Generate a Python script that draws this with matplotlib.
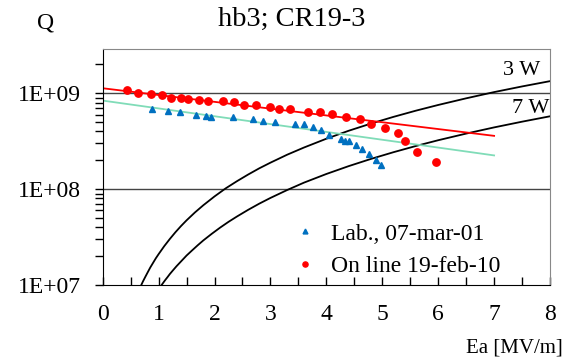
import matplotlib.pyplot as plt
import numpy as np

plt.rcParams['font.family'] = ['Liberation Serif', 'DejaVu Serif']

# measured Q vs Ea, lab test 07-mar-01 (blue triangles)
lab_ea = [0.88, 1.16, 1.39, 1.66, 1.84, 1.94, 2.33, 2.68, 2.87, 3.09, 3.44, 3.60,
          3.76, 3.90, 4.04, 4.26, 4.34, 4.41, 4.53, 4.64, 4.76, 4.88, 4.97]
lab_q = [6.85e8, 6.6e8, 6.4e8, 6.0e8, 5.8e8, 5.6e8, 5.6e8, 5.4e8, 5.2e8, 5.0e8, 4.75e8, 4.75e8,
         4.5e8, 4.14e8, 3.7e8, 3.3e8, 3.2e8, 3.15e8, 2.87e8, 2.6e8, 2.32e8, 2.03e8, 1.8e8]

# on line 19-feb-10 (red circles)
onl_ea = [0.43, 0.64, 0.86, 1.06, 1.22, 1.40, 1.53, 1.73, 1.89, 2.15, 2.35, 2.53, 2.74,
          2.99, 3.15, 3.35, 3.67, 3.88, 4.10, 4.35, 4.60, 4.80, 5.05, 5.29, 5.41, 5.62, 5.96]
onl_q = [1.08e9, 1.02e9, 9.9e8, 9.5e8, 9.0e8, 8.87e8, 8.7e8, 8.5e8, 8.4e8, 8.4e8, 8.1e8, 7.6e8, 7.5e8,
         7.15e8, 6.9e8, 6.9e8, 6.35e8, 6.35e8, 6.1e8, 5.6e8, 5.35e8, 4.75e8, 4.3e8, 3.82e8, 3.18e8, 2.42e8, 1.92e8]

# trend lines (end points)
fit_ea = [0, 7]
onl_fit = [1.13e9, 3.6e8]
lab_fit = [8.4e8, 2.25e8]

# constant power curves
w3_ea = [0.69, 0.72, 0.76, 0.8, 0.85, 0.9, 0.95, 1.0, 1.1, 1.2, 1.3, 1.4, 1.5, 1.65, 1.8,
         2.0, 2.2, 2.4, 2.6, 2.8, 3.0, 3.3, 3.6, 4.0, 4.4, 4.8, 5.2, 5.6, 6.0, 6.5, 7.0, 7.5, 8.0]
w3_q = [1.0e7, 1.09e7, 1.21e7, 1.34e7, 1.52e7, 1.70e7, 1.90e7, 2.1e7, 2.54e7, 3.02e7, 3.55e7,
        4.12e7, 4.73e7, 5.72e7, 6.80e7, 8.4e7, 1.02e8, 1.21e8, 1.42e8, 1.65e8, 1.89e8, 2.29e8,
        2.72e8, 3.36e8, 4.07e8, 4.84e8, 5.68e8, 6.59e8, 7.56e8, 8.87e8, 1.03e9, 1.18e9, 1.34e9]
w7_ea = [1.054, 1.08, 1.12, 1.16, 1.2, 1.26, 1.32, 1.4, 1.5, 1.6, 1.7, 1.8, 1.95, 2.1, 2.25,
         2.4, 2.6, 2.8, 3.0, 3.3, 3.6, 4.0, 4.4, 4.8, 5.2, 5.6, 6.0, 6.5, 7.0, 7.5, 8.0]
w7_q = [1.0e7, 1.05e7, 1.13e7, 1.21e7, 1.30e7, 1.43e7, 1.57e7, 1.76e7, 2.03e7, 2.30e7, 2.60e7,
        2.92e7, 3.42e7, 3.97e7, 4.56e7, 5.18e7, 6.08e7, 7.06e7, 8.1e7, 9.8e7, 1.17e8, 1.44e8,
        1.74e8, 2.07e8, 2.43e8, 2.82e8, 3.24e8, 3.80e8, 4.41e8, 5.06e8, 5.76e8]

fig = plt.figure(figsize=(5.64, 3.57), dpi=100)
ax = fig.add_axes([0.1821, 0.2017, 0.7931, 0.661])

ax.set_yscale('log')
ax.set_xlim(0, 8)
ax.set_ylim(1e7, 2.9e9)

for yv in [1e8, 1e9]:
    ax.axhline(yv, color='#444444', lw=1.0, zorder=1)

ax.plot(w3_ea, w3_q, color='black', lw=1.3, zorder=2)
ax.plot(w7_ea, w7_q, color='black', lw=1.3, zorder=2)
ax.plot(fit_ea, lab_fit, color='#80dcb8', lw=1.3, zorder=2)
ax.plot(fit_ea, onl_fit, color='#ff0000', lw=1.3, zorder=2)

ax.plot(lab_ea, lab_q, '^', color='#0070c0', ms=5, ls='none', zorder=3, label='Lab., 07-mar-01')
ax.plot(onl_ea, onl_q, 'o', color='#ff0000', ms=5.3, ls='none', zorder=3, label='On line 19-feb-10')

ax.text(7.82, 1.55e9, '3 W', fontsize=16, ha='right', va='baseline')
ax.text(7.98, 6.2e8, '7 W', fontsize=16, ha='right', va='baseline')

ax.set_xticks(range(0, 9))
ax.set_xticks(np.arange(0.5, 8, 1), minor=True)
ax.set_yticks([1e7, 1e8, 1e9])
ax.set_yticklabels(['1E+07', '1E+08', '1E+09'])
ax.tick_params(axis='x', which='both', direction='in', length=6, width=1, labelsize=17, pad=14)
ax.tick_params(axis='y', which='both', direction='out', length=6, width=1, labelsize=17, pad=10)

for s in ['left', 'bottom']:
    ax.spines[s].set_color('black')
for s in ['top', 'right']:
    ax.spines[s].set_color('#888888')

ax.legend(loc='upper left', bbox_to_anchor=(0.52, 0.375), bbox_transform=fig.transFigure,
          frameon=False, fontsize=17, markerscale=0.7, handlelength=1.0,
          handletextpad=0.6, labelspacing=0.45, borderpad=0, borderaxespad=0)

fig.text(292 / 564, 1 - 26 / 357, 'hb3; CR19-3', fontsize=20.5, ha='center', va='baseline')
fig.text(46 / 564, 1 - 29 / 357, 'Q', fontsize=17, ha='center', va='baseline')
fig.text(563 / 564, 4 / 357, 'Ea [MV/m]', fontsize=15, ha='right', va='baseline')

fig.savefig('out.png', dpi=100)
